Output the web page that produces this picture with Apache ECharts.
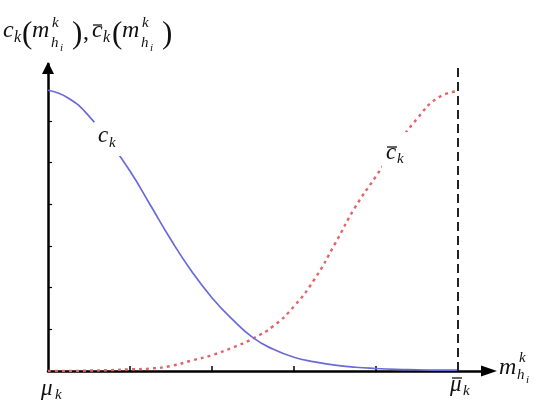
<!DOCTYPE html>
<html>
<head>
<meta charset="utf-8">
<script src="https://cdn.jsdelivr.net/npm/echarts@6/dist/echarts.min.js"></script>
<style>
  html, body { margin: 0; padding: 0; background: #fff; }
  #chart { width: 550px; height: 407px; }
</style>
</head>
<body>
<div id="chart"></div>
<script>
// m values along the x axis (mu_k = 0, mu_bar_k = 5)
var mValues = [0, 0.25, 0.5, 0.75, 1, 1.25, 1.5, 1.75, 2, 2.25, 2.5, 2.75, 3, 3.25, 3.5, 3.75, 4, 4.25, 4.5, 4.75, 5];
// c_k, solid blue
var cValues = [6.74, 6.55, 6.12, 5.5, 4.8, 3.98, 3.15, 2.4, 1.76, 1.24, 0.8, 0.52, 0.33, 0.22, 0.14, 0.09, 0.06, 0.04, 0.03, 0.02, 0.02];
// c_bar_k, dotted red
var cBarValues = [0, 0, 0.01, 0.02, 0.04, 0.06, 0.12, 0.25, 0.38, 0.56, 0.78, 1.08, 1.55, 2.2, 3.05, 3.94, 4.67, 5.4, 6.05, 6.55, 6.72];
var xTicks = [1, 2, 3, 4];
var yTicks = [1, 2, 3, 4, 5, 6];
var muBar = 5;

var serif = 'Liberation Serif';

// one piece of a formula, placed by its baseline
function t(text, x, base, size, italic) {
  return {
    type: 'text',
    z: 100,
    style: {
      text: text,
      x: x,
      y: base - size * 0.32,
      verticalAlign: 'middle',
      fontFamily: serif,
      fontStyle: italic === false ? 'normal' : 'italic',
      fontSize: size,
      fill: '#111'
    }
  };
}
function bar(x1, x2, y) {
  return { type: 'line', z: 100, shape: { x1: x1, y1: y, x2: x2, y2: y }, style: { stroke: '#111', lineWidth: 1.3 } };
}

var chart = echarts.init(document.getElementById('chart'));

var option = {
  animation: false,
  grid: { left: 48, right: 61, top: 64, bottom: 36 },
  xAxis: {
    type: 'value',
    min: 0,
    max: 5.38,
    axisLine: {
      show: true,
      onZero: false,
      symbol: ['none', 'triangle'],
      symbolSize: [11, 16],
      lineStyle: { color: '#000', width: 2.5 }
    },
    axisTick: { show: true, inside: true, length: 5, customValues: xTicks, lineStyle: { color: '#000', width: 1.5 } },
    axisLabel: { show: false },
    splitLine: { show: false }
  },
  yAxis: {
    type: 'value',
    min: 0,
    max: 7.37,
    axisLine: {
      show: true,
      onZero: false,
      symbol: ['none', 'triangle'],
      symbolSize: [12, 12],
      symbolOffset: [0, -4],
      lineStyle: { color: '#000', width: 2.5 }
    },
    axisTick: { show: true, inside: true, length: 4, customValues: yTicks, lineStyle: { color: '#000', width: 1.2 } },
    axisLabel: { show: false },
    splitLine: { show: false }
  },
  series: [
    {
      name: 'c_bar',
      type: 'line',
      smooth: true,
      showSymbol: false,
      data: mValues.map(function (m, i) { return [m, cBarValues[i]]; }),
      lineStyle: { color: '#e36468', width: 2.4, type: [3, 4] },
      markLine: {
        silent: true,
        symbol: 'none',
        label: { show: false },
        lineStyle: { color: '#222', width: 2, type: [9, 5] },
        data: [{ xAxis: muBar }]
      }
    },
    {
      name: 'c',
      type: 'line',
      smooth: true,
      showSymbol: false,
      data: mValues.map(function (m, i) { return [m, cValues[i]]; }),
      lineStyle: { color: '#6a6ad8', width: 1.7 }
    }
  ],
  graphic: [
    // white patches behind curve labels
    { type: 'rect', z: 90, shape: { x: 94, y: 122, width: 28, height: 34 }, style: { fill: '#fff' } },
    { type: 'rect', z: 90, shape: { x: 382, y: 132, width: 28, height: 36 }, style: { fill: '#fff' } },
    // curve labels
    t('c', 98, 143, 23), t('k', 109, 148, 15),
    t('c', 386, 160, 23), bar(387, 397, 147), t('k', 397, 164, 15),
    // y axis title: c_k(m^k_hi), c_bar_k(m^k_hi)
    t('c', 3, 38, 24), t('k', 14, 43, 16),
    t('(', 22, 45, 31, false),
    t('m', 32, 38, 24), t('k', 52, 28, 15), t('h', 51, 48, 15), t('i', 60, 52, 11),
    t(')', 72, 45, 31, false), t(',', 83, 40, 24, false),
    t('c', 92, 38, 24), bar(93, 102, 25), t('k', 103, 43, 16),
    t('(', 112, 45, 31, false),
    t('m', 122, 38, 24), t('k', 142, 28, 15), t('h', 141, 48, 15), t('i', 150, 52, 11),
    t(')', 162, 45, 31, false),
    // x axis title m^k_hi
    t('m', 499, 375, 24), t('k', 519, 363, 15), t('h', 517, 380, 15), t('i', 526, 384, 11),
    // ends of the x axis
    t('μ', 41, 396, 23), t('k', 55, 400, 15),
    t('μ', 450, 392, 23), bar(452, 462, 378), t('k', 463, 396, 15)
  ]
};

chart.setOption(option);
</script>
</body>
</html>
